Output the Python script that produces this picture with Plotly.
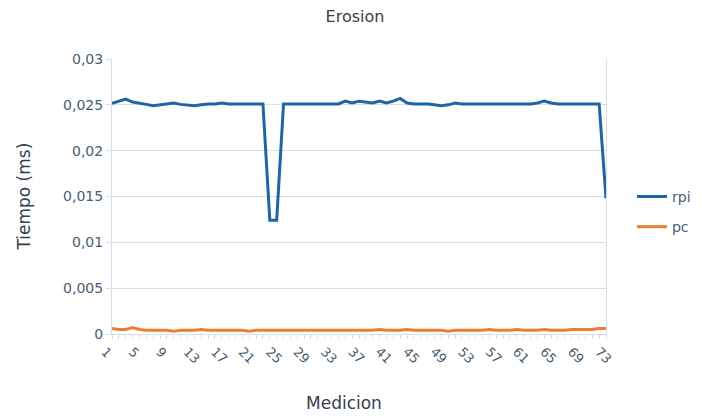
import plotly.graph_objects as go

medicion = list(range(1, 74))

rpi = [0.02516, 0.0254, 0.02562, 0.0253, 0.0252, 0.02505, 0.0249, 0.0250, 0.02505, 0.0252,
       0.02505, 0.0250, 0.0249, 0.0250, 0.0251, 0.0251, 0.0252, 0.0251, 0.0251, 0.0251,
       0.0251, 0.0251, 0.0251, 0.0124, 0.0124, 0.0251, 0.0251, 0.0251, 0.0251, 0.0251,
       0.0251, 0.0251, 0.0251, 0.0251, 0.0254, 0.0252, 0.0254, 0.0253, 0.0252, 0.0254,
       0.0252, 0.0254, 0.0257, 0.0252, 0.0251, 0.0251, 0.0251, 0.0250, 0.0249, 0.0250,
       0.0252, 0.0251, 0.0251, 0.0251, 0.0251, 0.0251, 0.0251, 0.0251, 0.0251, 0.0251,
       0.0251, 0.0251, 0.0252, 0.0254, 0.0252, 0.0251, 0.0251, 0.0251, 0.0251, 0.0251,
       0.0251, 0.0251, 0.0148]

pc = [0.0006, 0.0005, 0.0005, 0.0007, 0.0005, 0.0004, 0.0004, 0.0004, 0.0004, 0.0003,
      0.0004, 0.0004, 0.0004, 0.0005, 0.0004, 0.0004, 0.0004, 0.0004, 0.0004, 0.0004,
      0.0003, 0.0004, 0.0004, 0.0004, 0.0004, 0.0004, 0.0004, 0.0004, 0.0004, 0.0004,
      0.0004, 0.0004, 0.0004, 0.0004, 0.0004, 0.0004, 0.0004, 0.0004, 0.0004, 0.0005,
      0.0004, 0.0004, 0.0004, 0.0005, 0.0004, 0.0004, 0.0004, 0.0004, 0.0004, 0.0003,
      0.0004, 0.0004, 0.0004, 0.0004, 0.0004, 0.0005, 0.0004, 0.0004, 0.0004, 0.0005,
      0.0004, 0.0004, 0.0004, 0.0005, 0.0004, 0.0004, 0.0004, 0.0005, 0.0005, 0.0005,
      0.0005, 0.0006, 0.0006]

x_ticks = list(range(1, 74, 4))

grid = "#d9dee6"
txt = "#4a5d70"
title_col = "#34404c"
font_family = "DejaVu Sans, Verdana, sans-serif"

W, H = 694, 409  # page body has an 8px margin

fig = go.Figure()
fig.add_trace(go.Scatter(x=medicion, y=rpi, mode="lines", name="rpi",
                         line=dict(color="#1f64a6", width=3), legendgroup="a"))
fig.add_trace(go.Scatter(x=medicion, y=pc, mode="lines", name="pc",
                         line=dict(color="#ed7d31", width=3), legendgroup="b"))

fig.update_layout(
    width=W, height=H,
    margin=dict(l=104, r=96, t=51, b=83, autoexpand=False),
    paper_bgcolor="white", plot_bgcolor="white",
    separators=",.",
    font=dict(family=font_family, size=14, color=txt),
    title=dict(text="Erosion", x=0.5, xanchor="center", xref="container",
               y=1 - 8 / H, yanchor="middle", yref="container",
               font=dict(size=16, color=title_col)),
    legend=dict(x=1.0526, xanchor="left", y=0.444, yanchor="middle",
                tracegroupgap=9, font=dict(size=14, color=txt),
                bgcolor="rgba(0,0,0,0)"),
    xaxis=dict(range=[1, 73], tickvals=x_ticks, tickangle=45,
               showgrid=False, showline=True, linecolor=grid, zeroline=False,
               ticks="outside", ticklen=4, tickcolor=grid,
               ticklabelshift=-7,
               minor=dict(dtick=1, tick0=1, ticks="outside", ticklen=4, tickcolor=grid),
               tickfont=dict(size=13, color=txt)),
    yaxis=dict(range=[0, 0.03], dtick=0.005, tick0=0,
               showgrid=True, gridcolor=grid, gridwidth=1,
               showline=True, linecolor=grid, mirror=True, zeroline=False,
               ticks="outside", ticklen=5, tickcolor=grid,
               tickfont=dict(size=14, color=txt)),
    annotations=[
        dict(text="Medicion", xref="paper", yref="paper", x=0.47, y=-0.251,
             xanchor="center", yanchor="middle", showarrow=False,
             font=dict(size=17, color=title_col)),
        dict(text="Tiempo (ms)", xref="paper", yref="paper", x=-0.18, y=0.5,
             xanchor="center", yanchor="middle", textangle=-90, showarrow=False,
             font=dict(size=17, color=title_col)),
    ],
)

fig.write_html("out.html")
